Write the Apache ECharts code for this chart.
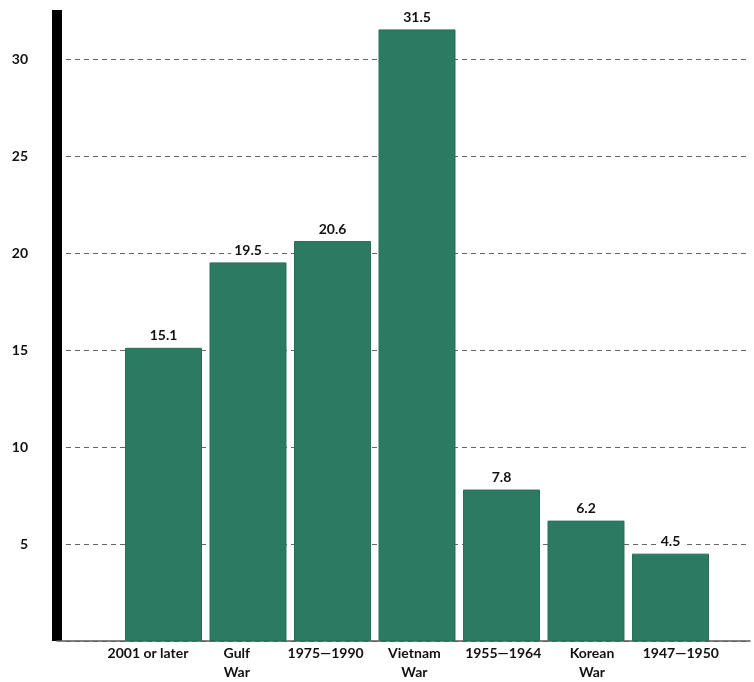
<!DOCTYPE html>
<html>
<head>
<meta charset="utf-8">
<script src="https://cdn.jsdelivr.net/npm/echarts@6/dist/echarts.min.js"></script>
<style>
  html, body { margin: 0; padding: 0; background: #ffffff; }
  #chart { width: 754px; height: 682px; }
</style>
</head>
<body>
<div id="chart"></div>
<script>
// Period of service categories and the share for each (percent)
const categories = ['2001 or later', 'Gulf\nWar', '1975\u20141990', 'Vietnam\nWar', '1955\u20141964', 'Korean\nWar', '1947\u20141950'];
const values = [15.1, 19.5, 20.6, 31.5, 7.8, 6.2, 4.5];
const yTicks = [5, 10, 15, 20, 25, 30];

const FONT = 'Lato, "Noto Sans", sans-serif';
const BAR_COLOR = '#2b7a61';
const TOP_VALUE = 32.5;

const chart = echarts.init(document.getElementById('chart'), null, { renderer: 'canvas' });

chart.setOption({
  backgroundColor: '#ffffff',
  animation: false,
  grid: [
    // 0: dashed gridlines and tick labels
    { left: 66, right: 4, top: 59, bottom: 41 },
    // 1: heavy vertical axis rule and baseline
    { left: 57, right: 4, top: 10, bottom: 41 },
    // 2: bars
    { left: 121.25, right: 41.25, top: 10, bottom: 41 },
    // 3: category labels
    { left: 103.6, right: 28.8, top: 10, bottom: 41 }
  ],
  xAxis: [
    {
      gridIndex: 0, type: 'category', data: [''],
      axisLine: { show: false }, axisTick: { show: false }, axisLabel: { show: false }
    },
    {
      gridIndex: 1, type: 'category', data: [''],
      axisLine: { show: true, lineStyle: { color: '#5a5a5a', width: 1.5 } },
      axisTick: { show: false }, axisLabel: { show: false }
    },
    {
      gridIndex: 2, type: 'category', data: categories,
      axisLine: { show: false }, axisTick: { show: false }, axisLabel: { show: false }
    },
    {
      gridIndex: 3, type: 'category', data: categories,
      axisLine: { show: false }, axisTick: { show: false },
      axisLabel: {
        interval: 0, margin: 9, color: '#111111',
        fontFamily: FONT, fontWeight: 'bold', fontSize: 14, lineHeight: 19
      }
    }
  ],
  yAxis: [
    {
      gridIndex: 0, type: 'value', min: 0, max: yTicks[yTicks.length - 1], interval: 5,
      axisLine: { show: false }, axisTick: { show: false },
      splitLine: { show: true, lineStyle: { type: [5, 4], color: '#666666', width: 1 } },
      axisLabel: {
        margin: 38, color: '#111111', fontFamily: FONT, fontWeight: 'bold', fontSize: 14,
        formatter: v => (yTicks.indexOf(v) >= 0 ? String(v) : '')
      }
    },
    {
      gridIndex: 1, type: 'value', min: 0, max: TOP_VALUE,
      axisLine: { show: true, lineStyle: { color: '#000000', width: 10, cap: 'butt' } },
      axisTick: { show: false }, axisLabel: { show: false }, splitLine: { show: false }
    },
    {
      gridIndex: 2, type: 'value', min: 0, max: TOP_VALUE,
      axisLine: { show: false }, axisTick: { show: false }, axisLabel: { show: false }, splitLine: { show: false }
    },
    {
      gridIndex: 3, type: 'value', min: 0, max: TOP_VALUE, show: false
    }
  ],
  series: [
    {
      type: 'bar',
      xAxisIndex: 2, yAxisIndex: 2,
      data: values,
      barWidth: 77,
      itemStyle: { color: BAR_COLOR, borderColor: '#26715a', borderWidth: 1 },
      label: {
        show: true, position: 'top', distance: 5,
        color: '#111111', fontFamily: FONT, fontWeight: 'bold', fontSize: 14,
        backgroundColor: '#ffffff', padding: [0, 3],
        formatter: p => p.value.toFixed(1)
      }
    }
  ]
});
</script>
</body>
</html>
